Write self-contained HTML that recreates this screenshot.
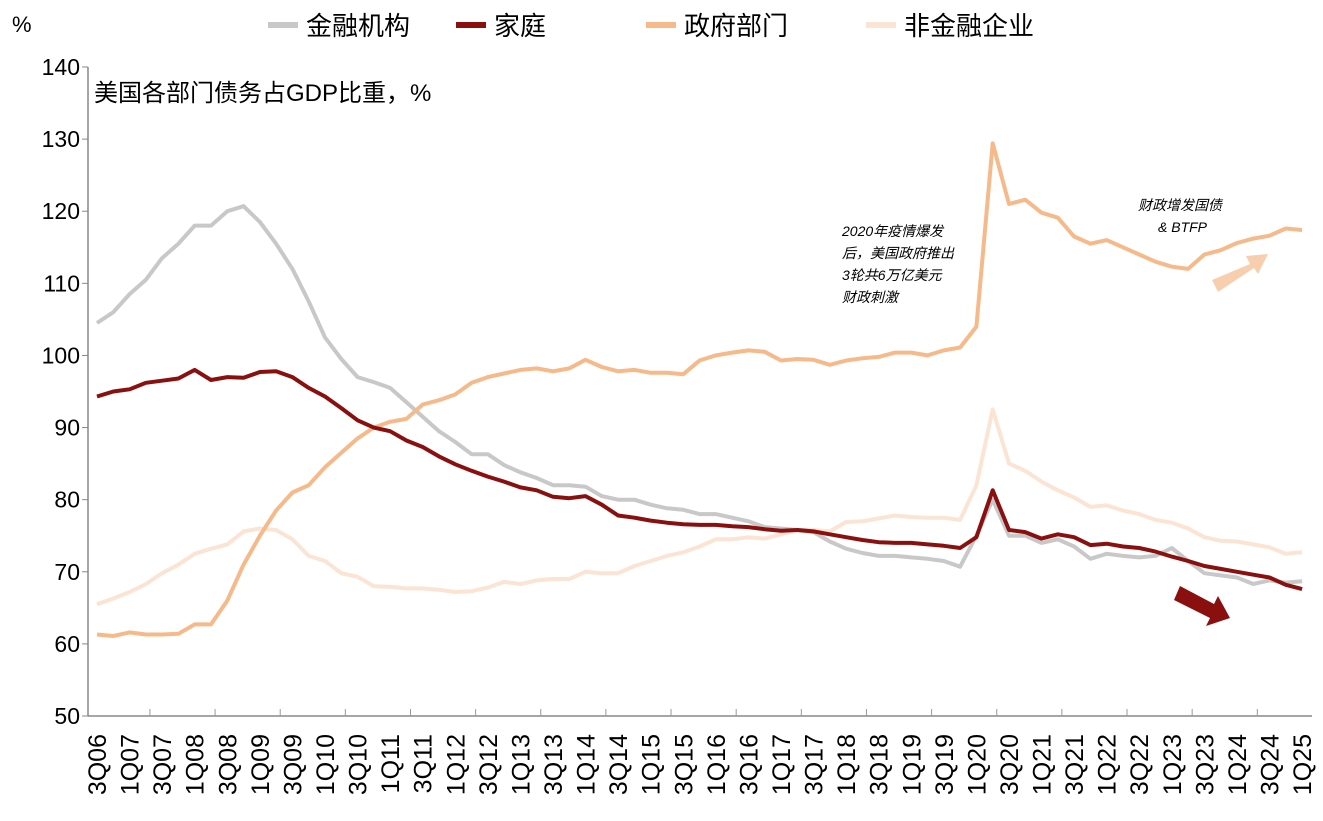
<!DOCTYPE html>
<html><head><meta charset="utf-8">
<style>
body{margin:0;background:#fff;}
svg text{font-family:"Liberation Sans","Noto Sans CJK SC",sans-serif;}
</style></head>
<body>
<svg id="chart" width="1323" height="816" xmlns="http://www.w3.org/2000/svg">
<g id="axes"></g>
<g id="series"></g>
<text x="12" y="32" font-size="22" fill="#000">%</text>
<g>
<line x1="268" y1="25" x2="298" y2="25" stroke="#c8c8c8" stroke-width="6"/>
<text x="306" y="35" font-size="26">金融机构</text>
<line x1="456" y1="25" x2="486" y2="25" stroke="#8a1010" stroke-width="6"/>
<text x="494" y="35" font-size="26">家庭</text>
<line x1="646" y1="25" x2="676" y2="25" stroke="#f6b98a" stroke-width="6"/>
<text x="684" y="35" font-size="26">政府部门</text>
<line x1="866" y1="25" x2="896" y2="25" stroke="#fbe4d4" stroke-width="6"/>
<text x="904" y="35" font-size="26">非金融企业</text>
</g>
<text x="94" y="101" font-size="24">美国各部门债务占GDP比重，%</text>
<g font-size="14" font-style="italic">
<text x="842" y="236">2020年疫情爆发</text>
<text x="842" y="258">后，美国政府推出</text>
<text x="842" y="280">3轮共6万亿美元</text>
<text x="842" y="302">财政刺激</text>
</g>
<g font-size="14" font-style="italic">
<text x="1138" y="210">财政增发国债</text>
<text x="1158" y="232">&amp; BTFP</text>
</g>
<polygon fill="#f8cfae" points="1212,280 1250,264 1246,256 1268,254 1258,274 1254,268 1218,292"/>
<polygon fill="#8a1010" points="1180,586 1214,604 1218,596 1230,618 1206,626 1210,618 1174,600"/>
</svg>
<script>
const categoriesStart = {year: 2006, q: 3};
const financial = [104.5,106,108.5,110.5,113.5,115.5,118,118,120,120.7,118.5,115.5,112,107.5,102.5,99.5,97,96.3,95.5,93.5,91.5,89.5,88,86.3,86.3,84.8,83.8,83,82,82,81.8,80.5,80,80,79.3,78.8,78.6,78,78,77.5,77,76.2,76,75.8,75.5,74.2,73.2,72.6,72.2,72.2,72,71.8,71.5,70.7,75,80,75,75,74,74.5,73.5,71.8,72.5,72.2,72,72.2,73.3,71.5,69.8,69.5,69.2,68.3,68.8,68.5,68.7];
const household = [94.3,95,95.3,96.2,96.5,96.8,98,96.6,97,96.9,97.7,97.8,97,95.5,94.3,92.7,91,90,89.5,88.2,87.3,86,84.9,84,83.2,82.5,81.7,81.3,80.4,80.2,80.5,79.3,77.8,77.5,77.1,76.8,76.6,76.5,76.5,76.3,76.2,75.9,75.7,75.8,75.6,75.2,74.8,74.4,74.1,74.0,74.0,73.8,73.6,73.3,74.8,81.3,75.8,75.5,74.6,75.2,74.8,73.7,73.9,73.5,73.3,72.8,72.1,71.5,70.8,70.4,70,69.6,69.2,68.2,67.6];
const government = [61.3,61.1,61.6,61.3,61.3,61.4,62.7,62.7,66,71,75,78.5,81,82,84.5,86.5,88.5,90,90.8,91.2,93.2,93.8,94.6,96.2,97,97.5,98,98.2,97.8,98.2,99.4,98.4,97.8,98,97.6,97.6,97.4,99.3,100,100.4,100.7,100.5,99.3,99.5,99.4,98.7,99.3,99.6,99.8,100.4,100.4,100,100.7,101.1,104,129.4,121,121.6,119.8,119.1,116.5,115.5,116,115,114,113,112.3,112,114,114.6,115.6,116.2,116.6,117.6,117.4];
const nonfinancial = [65.5,66.3,67.2,68.3,69.8,71,72.5,73.2,73.8,75.6,76,75.8,74.5,72.2,71.5,69.8,69.3,68,67.9,67.7,67.7,67.5,67.2,67.3,67.8,68.6,68.3,68.8,69,69,70,69.8,69.8,70.8,71.5,72.2,72.7,73.5,74.5,74.5,74.8,74.6,75.2,75.8,75.8,75.6,76.9,77,77.4,77.8,77.6,77.5,77.5,77.2,82,92.5,85,84,82.5,81.3,80.3,79,79.2,78.5,78,77.2,76.8,76,74.8,74.3,74.2,73.8,73.4,72.5,72.7];
const yTicks = [50,60,70,80,90,100,110,120,130,140];

const NS = "http://www.w3.org/2000/svg";
const x0 = 97, dx = 16.285, yBase = 716, yTop = 67, yMin = 50, yMax = 140;
function xs(i){ return x0 + i*dx; }
function ys(v){ return yBase - (v - yMin)/(yMax - yMin)*(yBase - yTop); }
function mk(tag, attrs, parent){ const e = document.createElementNS(NS, tag); for (const k in attrs) e.setAttribute(k, attrs[k]); parent.appendChild(e); return e; }
const axes = document.getElementById('axes');
const n = financial.length;
let a = mk('line', {x1:88, y1:yTop, x2:88, y2:yBase, stroke:'#888', 'stroke-width':1.5}, axes);


a = mk('line', {x1:88, y1:yBase, x2:1312, y2:yBase, stroke:'#888', 'stroke-width':1.5}, axes);


yTicks.forEach(v => {
  const t = mk('text', {x:80, y:ys(v)+8, 'font-size':23, 'text-anchor':'end'}, axes);
  t.textContent = v;
  
  
  mk('line', {x1:82, y1:ys(v), x2:88, y2:ys(v), stroke:'#888'}, axes);
});
for (let i = 0; i < n; i += 2) {
  const q = ((categoriesStart.q - 1 + i) % 4) + 1;
  const yr = categoriesStart.year + Math.floor((categoriesStart.q - 1 + i) / 4);
  const lbl = q + 'Q' + String(yr % 100).padStart(2, '0');
  const x = xs(i);
  const t = mk('text', {x:0, y:0, 'font-size':25, 'text-anchor':'end', transform:`translate(${x+9},734) rotate(-90)`}, axes);
  t.textContent = lbl;
  
  
}
for (let i = 3.25; i < n; i += 4) {
  mk('line', {x1:xs(i), y1:yBase-7, x2:xs(i), y2:yBase, stroke:'#999'}, axes);
}
const series = document.getElementById('series');
function draw(arr, color, name){
  const d = arr.map((v,i) => (i ? 'L' : 'M') + xs(i).toFixed(1) + ',' + ys(v).toFixed(1)).join('');
  const p = mk('path', {d:d, fill:'none', stroke:color, 'stroke-width':4, 'stroke-linejoin':'round'}, series);
  
  
}
draw(nonfinancial, '#fbe4d4', 'line-nonfinancial');
draw(financial, '#c8c8c8', 'line-financial');
draw(government, '#f6b98a', 'line-government');
draw(household, '#8a1010', 'line-household');
</script>
</body></html>
